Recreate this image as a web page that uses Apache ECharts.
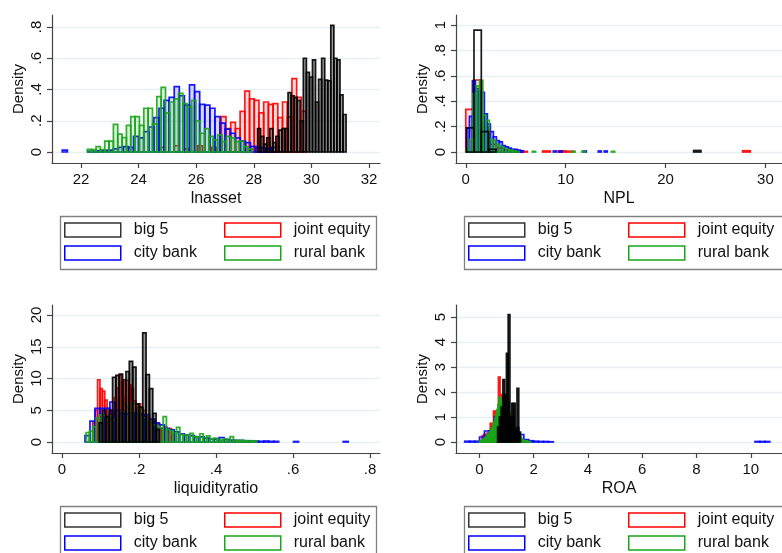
<!DOCTYPE html>
<html>
<head>
<meta charset="utf-8">
<script src="https://cdn.jsdelivr.net/npm/echarts@6/dist/echarts.min.js"></script>
<style>
  html, body { margin: 0; padding: 0; background: #fff; }
  #chart { width: 782px; height: 553px; }
</style>
</head>
<body>
<div id="chart"></div>
<script>
// bank groups
const groupNames = ["big 5", "joint equity", "city bank", "rural bank"];
const groupColors = ["#000000", "#ff0000", "#0000ff", "#1aa51a"];

// lnasset: [first bin edge, bin width] + bar heights
const lnassetTicksX = [22, 24, 26, 28, 30, 32];
const lnassetTicksY = [0, 0.2, 0.4, 0.6, 0.8];
const lnassetBig5Bins = [28.13, 0.106];
const lnassetBig5 = [0.15, 0.10, 0.05, 0.09, 0.15, 0.06, 0.10, 0.14, 0.15, 0.15, 0.38, 0.36, 0.35, 0.33, 0.20,
  0.60, 0.51, 0.48, 0.59, 0.32, 0.465, 0.60, 0.46, 0.455, 0.81, 0.60, 0.59, 0.365, 0.24];
const lnassetJointBins = [24.58, 0.1636];
const lnassetJoint = [0, 0.03, 0, 0, 0.04, 0, 0.02, 0, 0, 0.04, 0, 0, 0.03, 0,
  0.227, 0.15, 0.19, 0.15, 0.26, 0.39, 0.34, 0.33, 0.25, 0.32, 0.305, 0.31, 0.22, 0.32, 0.225, 0.47, 0.35, 0.26];
const lnassetCityBins = [21.35, 0.1767];
const lnassetCity = [0.012, 0, 0, 0, 0, 0.005, 0.005, 0.008, 0.01, 0.012, 0.02, 0.03, 0.035, 0.03, 0.10, 0.09,
  0.13, 0.16, 0.22, 0.28, 0.33, 0.35, 0.418, 0.36, 0.30, 0.43, 0.386, 0.305, 0.30, 0.28, 0.227, 0.185, 0.147,
  0.12, 0.09, 0.07, 0.06, 0.036, 0.03, 0.025, 0.02, 0.03];
const lnassetRuralBins = [22.22, 0.1508];
const lnassetRural = [0.017, 0.015, 0.034, 0.015, 0.07, 0.07, 0.177, 0.115, 0.092, 0.17, 0.226, 0.226, 0.17,
  0.28, 0.28, 0.18, 0.355, 0.414, 0.25, 0.32, 0.34, 0.375, 0.31, 0.29, 0.33, 0.2, 0.12, 0.15, 0.1, 0.077,
  0.11, 0.066, 0.1, 0.09, 0.066, 0.07, 0.034, 0.02];

// NPL
const nplTicksX = [0, 10, 20, 30];
const nplTicksY = [0, 0.2, 0.4, 0.6, 0.8, 1];
const nplBig5Bins = [0.09, 0.733];
const nplBig5 = [0.19, 0.96, 0.16, 0.02, 0, 0, 0, 0, 0, 0, 0, 0, 0, 0, 0, 0, 0, 0, 0, 0, 0, 0, 0, 0, 0, 0, 0,
  0, 0, 0, 0, 0.012];
const nplJointBins = [0.0, 0.77];
const nplJoint = [0.336, 0.567, 0.2, 0.06, 0.03, 0.015, 0.01, 0.005, 0, 0, 0.008, 0, 0.008, 0.006, 0, 0, 0, 0,
  0, 0, 0, 0, 0, 0, 0, 0, 0, 0, 0, 0, 0, 0, 0, 0, 0, 0, 0.01];
const nplCityBins = [0.065, 0.3];
const nplCity = [0.19, 0.28, 0.56, 0.5, 0.48, 0.47, 0.3, 0.22, 0.16, 0.12, 0.09, 0.08, 0.05, 0.04, 0.03, 0.02,
  0.02, 0.015, 0.01, 0, 0, 0, 0, 0, 0, 0, 0, 0, 0, 0.008, 0, 0.008, 0, 0, 0, 0, 0, 0, 0, 0.008, 0, 0, 0, 0,
  0.008, 0, 0.008];
const nplRuralBins = [0.06, 0.33];
const nplRural = [0.02, 0.10, 0.46, 0.52, 0.565, 0.29, 0.25, 0.10, 0.09, 0.06, 0.045, 0.03, 0.02, 0.015, 0.01,
  0.005, 0, 0, 0, 0, 0.005, 0, 0, 0, 0, 0, 0, 0, 0, 0, 0, 0, 0.005, 0, 0, 0.005, 0, 0, 0, 0, 0, 0, 0, 0,
  0.005];

// liquidity ratio
const liqTicksX = [0, 0.2, 0.4, 0.6, 0.8];
const liqTicksY = [0, 5, 10, 15, 20];
const liqBig5Bins = [0.0965, 0.0087];
const liqBig5 = [3, 5, 4, 5, 10.2, 10.5, 10.7, 9.8, 11.1, 12.7, 11.8, 6, 5.5, 17.2, 10.6, 8.4, 4.5, 2];
const liqJointBins = [0.080, 0.0062];
const liqJoint = [3, 5, 9.8, 8.4, 8.0, 6.6, 5.3, 4.5, 5.0, 7.0, 8.5, 10.5, 9.5, 7.0, 9.7, 9.0, 8.5, 6.5, 5.5,
  6.0, 4.5, 5.0, 4.0, 3.5, 3.0, 3.5, 2.5, 2.8, 2.2, 2.0, 2.4, 1.8, 2.1, 1.0];
const liqCityBins = [0.0597, 0.0129];
const liqCity = [1.0, 3.3, 5.3, 5.3, 5.3, 6.3, 5.0, 4.6, 4.4, 4.6, 4.4, 4.25, 4.3, 3.6, 3.0, 2.7, 2.15, 1.9,
  1.6, 1.3, 1.1, 1.0, 0.8, 0.8, 0.6, 0.5, 0.45, 0.7, 0.4, 0.3, 0.25, 0.2, 0.2, 0.15, 0.15, 0.1, 0.15, 0.1, 0.1,
  0, 0, 0, 0.08, 0, 0, 0, 0, 0, 0, 0, 0, 0, 0.08];
const liqRuralBins = [0.0625, 0.0087];
const liqRural = [1.5, 1.7, 2.4, 3.8, 4.25, 4.2, 3.6, 4.1, 3.5, 3.9, 4.8, 6.1, 5.5, 6.1, 6.0, 4.8, 5.35, 3.8,
  3.4, 3.2, 2.7, 2.5, 2.2, 4.0, 2.0, 1.8, 1.5, 2.3, 1.2, 1.1, 1.0, 1.36, 0.9, 0.8, 1.3, 0.7, 0.95, 0.5, 0.6,
  0.4, 0.3, 0.5, 0.3, 0.84, 0.3, 0.2, 0.3, 0.2, 0.15, 0.2, 0.15];

// ROA
const roaTicksX = [0, 2, 4, 6, 8, 10];
const roaTicksY = [0, 1, 2, 3, 4, 5];
const roaBig5Bins = [0.67, 0.065];
const roaBig5 = [0.6, 1.0, 1.4, 2.5, 1.9, 3.55, 5.1, 1.0, 1.55, 1.55, 0.5, 2.15, 0.4];
const roaJointBins = [0.1, 0.06];
const roaJoint = [0.25, 0.3, 0.25, 0.35, 0.45, 0.75, 0.6, 1.24, 0.9, 1.2, 2.6, 1.6, 1.9, 1.75, 1.5, 1.3, 1.1,
  0.9, 0.7, 0.55, 0.4, 0.3, 0.2, 0.1, 0.05];
const roaCityBins = [-0.54, 0.1813];
const roaCity = [0.03, 0.03, 0.03, 0.2, 0.44, 0.44, 1.0, 1.5, 1.6, 1.0, 0.58, 0.3, 0.1, 0.05, 0.03, 0.02, 0.02,
  0.01, 0, 0, 0, 0, 0, 0, 0, 0, 0, 0, 0, 0, 0, 0, 0, 0, 0, 0, 0, 0, 0, 0, 0, 0, 0, 0, 0, 0, 0, 0, 0, 0, 0, 0,
  0, 0, 0, 0, 0, 0, 0, 0.02, 0.02, 0.02];
const roaRuralBins = [0.0, 0.04];
const roaRural = [0.03, 0.05, 0.08, 0.1, 0.14, 0.18, 0.22, 0.28, 0.33, 0.4, 0.48, 0.55, 0.65, 0.8, 0.95, 1.1,
  1.3, 1.5, 1.8, 1.75, 1.65, 1.55, 1.6, 1.45, 1.5, 1.35, 1.3, 1.2, 1.05, 0.9, 0.8, 0.7, 0.6, 0.55, 0.45, 0.4,
  0.3, 0.22, 0.15, 0.1, 0.07, 0.05, 0.04, 0.03, 0.02, 0.02, 0.01];

const FONT = "Liberation Sans, Arial, sans-serif";
const TEXT = "#111";

const panels = [
  { name: "lnasset", grid: { left: 52, top: 15, width: 328, height: 148 },
    x: [20.993, 32.382], y: [-0.0704, 0.8768], tx: lnassetTicksX, ty: lnassetTicksY,
    groups: [[lnassetBig5Bins, lnassetBig5], [lnassetJointBins, lnassetJoint],
             [lnassetCityBins, lnassetCity], [lnassetRuralBins, lnassetRural]] },
  { name: "NPL", grid: { left: 456, top: 15, width: 334, height: 148 },
    x: [-0.977, 31.66], y: [-0.0866, 1.0787], tx: nplTicksX, ty: nplTicksY,
    groups: [[nplBig5Bins, nplBig5], [nplJointBins, nplJoint],
             [nplCityBins, nplCity], [nplRuralBins, nplRural]] },
  { name: "liquidityratio", grid: { left: 52, top: 305, width: 328, height: 148 },
    x: [-0.026, 0.826], y: [-1.732, 21.575], tx: liqTicksX, ty: liqTicksY,
    groups: [[liqBig5Bins, liqBig5], [liqJointBins, liqJoint],
             [liqCityBins, liqCity], [liqRuralBins, liqRural]] },
  { name: "ROA", grid: { left: 456, top: 305, width: 334, height: 148 },
    x: [-0.863, 11.151], y: [-0.44, 5.48], tx: roaTicksX, ty: roaTicksY,
    groups: [[roaBig5Bins, roaBig5], [roaJointBins, roaJoint],
             [roaCityBins, roaCity], [roaRuralBins, roaRural]] }
];

function histData(bins, values) {
  const out = [];
  values.forEach((v, k) => {
    if (v > 0) out.push([bins[0] + k * bins[1], bins[0] + (k + 1) * bins[1], v]);
  });
  return out;
}

function tickText(v) {
  return v === 0 ? "0" : String(v).replace(/^0\./, ".");
}

function withAlpha(hex, a) {
  const n = parseInt(hex.slice(1), 16);
  return `rgba(${n >> 16},${(n >> 8) & 255},${n & 255},${a})`;
}

function barRenderer(color) {
  const isBlack = color === "#000000";
  return function (params, api) {
    const top = api.coord([api.value(0), api.value(2)]);
    const bottom = api.coord([api.value(1), 0]);
    const w = bottom[0] - top[0];
    // narrow black bars look nearly solid in the original
    let fill = withAlpha(color, 0.14);
    if (isBlack) fill = w < 5 ? "rgba(0,0,0,0.4)" : "rgba(0,0,0,0)";
    return {
      type: "rect",
      shape: { x: top[0], y: top[1], width: w, height: bottom[1] - top[1] },
      style: { fill: fill, stroke: withAlpha(color, 0.9), lineWidth: 1.7 }
    };
  };
}

function legendItem(g) {
  return {
    name: groupNames[g],
    itemStyle: { color: "#fff", borderColor: g === 0 ? "#333" : groupColors[g], borderWidth: 1.5 }
  };
}

const axisLineStyle = { color: "#444", width: 1.2 };
const grids = [], xAxes = [], yAxes = [], series = [], legends = [], graphics = [];

// draw order: joint equity, city bank, rural bank, big 5 on top
const drawOrder = [1, 2, 3, 0];
// legend columns: [big 5, city bank] and [joint equity, rural bank]
const legendColumns = [[0, 2], [1, 3]];

panels.forEach((p, i) => {
  grids.push(p.grid);
  xAxes.push({
    type: "value", gridIndex: i, min: p.x[0], max: p.x[1],
    name: p.name, nameLocation: "middle", nameGap: 28,
    nameTextStyle: { fontSize: 16, color: TEXT, fontFamily: FONT },
    axisLine: { onZero: false, lineStyle: axisLineStyle },
    axisTick: { length: 5, customValues: p.tx, lineStyle: axisLineStyle },
    axisLabel: { customValues: p.tx, margin: 9, fontSize: 15, color: TEXT, fontFamily: FONT, formatter: tickText },
    splitLine: { show: false }
  });
  yAxes.push({
    type: "value", gridIndex: i, min: p.y[0], max: p.y[1],
    name: "Density", nameLocation: "middle", nameGap: 26, nameRotate: 90,
    nameTextStyle: { fontSize: 15, color: TEXT, fontFamily: FONT },
    axisLine: { show: true, onZero: false, lineStyle: axisLineStyle },
    axisTick: { show: true, length: 5, customValues: p.ty, lineStyle: axisLineStyle },
    axisLabel: { customValues: p.ty, rotate: 90, margin: 8, fontSize: 15, color: TEXT, fontFamily: FONT, formatter: tickText },
    splitLine: { show: true, lineStyle: { color: "#e6eff1", width: 1.3 } }
  });
  drawOrder.forEach(g => {
    series.push({
      type: "custom", name: groupNames[g], xAxisIndex: i, yAxisIndex: i,
      clip: true, silent: true,
      encode: { x: [0, 1], y: 2 },
      itemStyle: { color: groupColors[g] },
      renderItem: barRenderer(groupColors[g]),
      data: histData(p.groups[g][0], p.groups[g][1])
    });
  });
  legendColumns.forEach((col, c) => {
    legends.push({
      left: p.grid.left + (c === 0 ? 7 : 167), top: p.grid.top + 202,
      width: 160, height: 50, padding: [5, 5, 0, 5],
      orient: "vertical", itemWidth: 56, itemHeight: 14, itemGap: 7, icon: "rect",
      selectedMode: false,
      textStyle: { fontSize: 16, color: TEXT, fontFamily: FONT, padding: [0, 0, 0, 8] },
      data: col.map(legendItem)
    });
  });
  graphics.push({
    type: "rect", left: p.grid.left + 6, top: p.grid.top + 199,
    shape: { width: i % 2 ? 330 : 316, height: 53 },
    style: { fill: "none", stroke: "#808080", lineWidth: 1.3 }
  });
});

const chart = echarts.init(document.getElementById("chart"));
chart.setOption({
  animation: false,
  backgroundColor: "#fff",
  grid: grids,
  xAxis: xAxes,
  yAxis: yAxes,
  legend: legends,
  graphic: graphics,
  series: series
});
</script>
</body>
</html>
